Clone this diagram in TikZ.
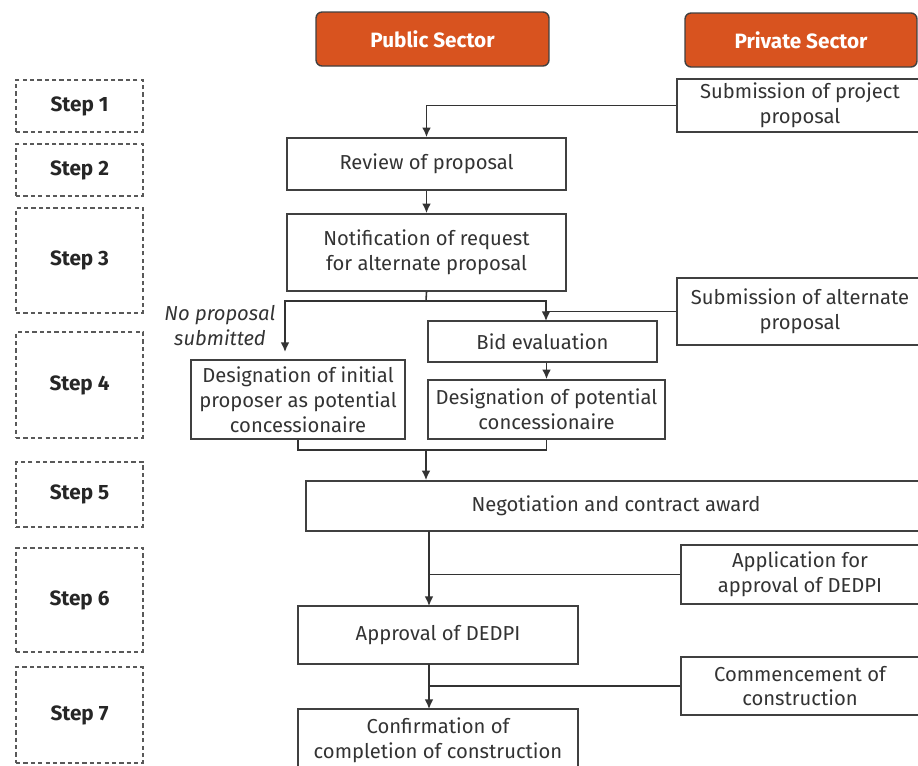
\documentclass[tikz,border=0pt]{standalone}
\usepackage{fontspec}
\setmainfont{Fira Sans}
\usepackage{tikz}
\usetikzlibrary{arrows.meta,positioning,calc}
\usepackage{xcolor}
\definecolor{orng}{HTML}{D8531F}
\definecolor{txt}{HTML}{333333}

\begin{document}
\begin{tikzpicture}[x=0.02cm,y=-0.02cm,
  every node/.style={align=center,inner sep=0pt,text=txt,font=\fontsize{11.5}{14.2}\selectfont},%
  hd/.style={draw=black!75,fill=orng,rounded corners=0.12cm,line width=0.8pt,%
    minimum width=4.66cm,minimum height=1.08cm,text=white,font=\fontsize{11.8}{14}\selectfont\bfseries},%
  st/.style={draw=black!65,line width=1.1pt,dash pattern=on 2.4pt off 1.8pt,%
    minimum width=2.54cm,text=black!85,font=\fontsize{11.8}{14}\selectfont\bfseries},%
  bx/.style={draw=black!75,line width=0.95pt},%
  e/.style={-{Latex[length=5.5pt,width=5pt]},draw=black!80,line width=0.9pt},%
  l/.style={draw=black!80,line width=0.9pt},%
  ]
  \clip (0,0) rectangle (918,765);
  \node (pub) [hd] at (432.5,39) {Public Sector};
  \node (priv) [hd,minimum width=4.64cm] at (801,40) {Private Sector};
  \node (s1) [st,minimum height=1.04cm] at (79.5,106) {Step 1};
  \node (s2) [st,minimum height=1.04cm] at (79.5,170) {Step 2};
  \node (s3) [st,minimum height=2.10cm] at (79.5,260.5) {Step 3};
  \node (s4) [st,minimum height=2.12cm] at (79.5,385) {Step 4};
  \node (s5) [st,minimum height=1.30cm] at (79.5,494.5) {Step 5};
  \node (s6) [st,minimum height=2.08cm] at (79.5,600) {Step 6};
  \node (s7) [st,minimum height=1.92cm] at (79.5,715) {Step 7};
  \node (sub1) [bx,minimum width=4.92cm,minimum height=1.06cm] at (800,105.5) {Submission of project\\proposal};
  \node (rev) [bx,minimum width=5.58cm,minimum height=1.04cm] at (426.5,164) {Review of proposal};
  \node (notif) [bx,minimum width=5.58cm,minimum height=1.54cm] at (426.5,252.5) {Notification of request\\for alternate proposal};
  \node (sub2) [bx,minimum width=4.92cm,minimum height=1.34cm] at (800,311.5) {Submission of alternate\\proposal};
  \node (bid) [bx,minimum width=4.58cm,minimum height=0.82cm] at (542.5,341.5) {Bid evaluation};
  \node (desI) [bx,minimum width=4.28cm,minimum height=1.58cm] at (298,399.5) {Designation of initial\\proposer as potential\\concessionaire};
  \node (desP) [bx,minimum width=4.74cm,minimum height=1.18cm] at (546.5,409.5) {Designation of potential\\concessionaire};
  \node (np) [font=\fontsize{11.5}{14.2}\selectfont\itshape] at (220,326) {No proposal\\submitted};
  \node (neg) [bx,minimum width=12.40cm,minimum height=1.00cm] at (616,506) {Negotiation and contract award};
  \node (app) [bx,minimum width=4.76cm,minimum height=1.18cm] at (800,574.5) {Application for\\approval of DEDPI};
  \node (appr) [bx,minimum width=5.60cm,minimum height=1.16cm] at (438,635) {Approval of DEDPI};
  \node (comm) [bx,minimum width=4.76cm,minimum height=1.16cm] at (800,686) {Commencement of\\construction};
  \node (conf) [bx,minimum width=5.60cm,minimum height=1.26cm] at (438,740.5) {Confirmation of\\completion of construction};
  \coordinate (j1) at (426,301);
  \coordinate (nl) at (285,352);
  \coordinate (nr) at (546,321);
  \coordinate (j2) at (426,450);
  \coordinate (j3) at (429,531);
  \coordinate (j4) at (429,606);
  \coordinate (j5) at (429,664);
  \coordinate (j6) at (429,709);
  \draw [e] (sub1.west) -| (rev.north);
  \draw [e] (rev) -- (notif);
  \draw [l] (notif.south) -- (j1);
  \draw [e] (j1) -| (nl);
  \draw [e] (j1) -| (nr);
  \draw [l] (sub2.west) -- (sub2.west -| nr);
  \draw [e] (desP.north |- bid.south) -- (desP.north);
  \draw [l] (desI.south) |- (j2) -| (desP.south);
  \draw [e] (j2) -- (neg.north -| j2);
  \draw [e] (j3) -- (j4);
  \draw [l] (app.west) -- (app.west -| j3);
  \draw [e] (j5) -- (j6);
  \draw [l] (comm.west) -- (comm.west -| j5);
\end{tikzpicture}
\end{document}
